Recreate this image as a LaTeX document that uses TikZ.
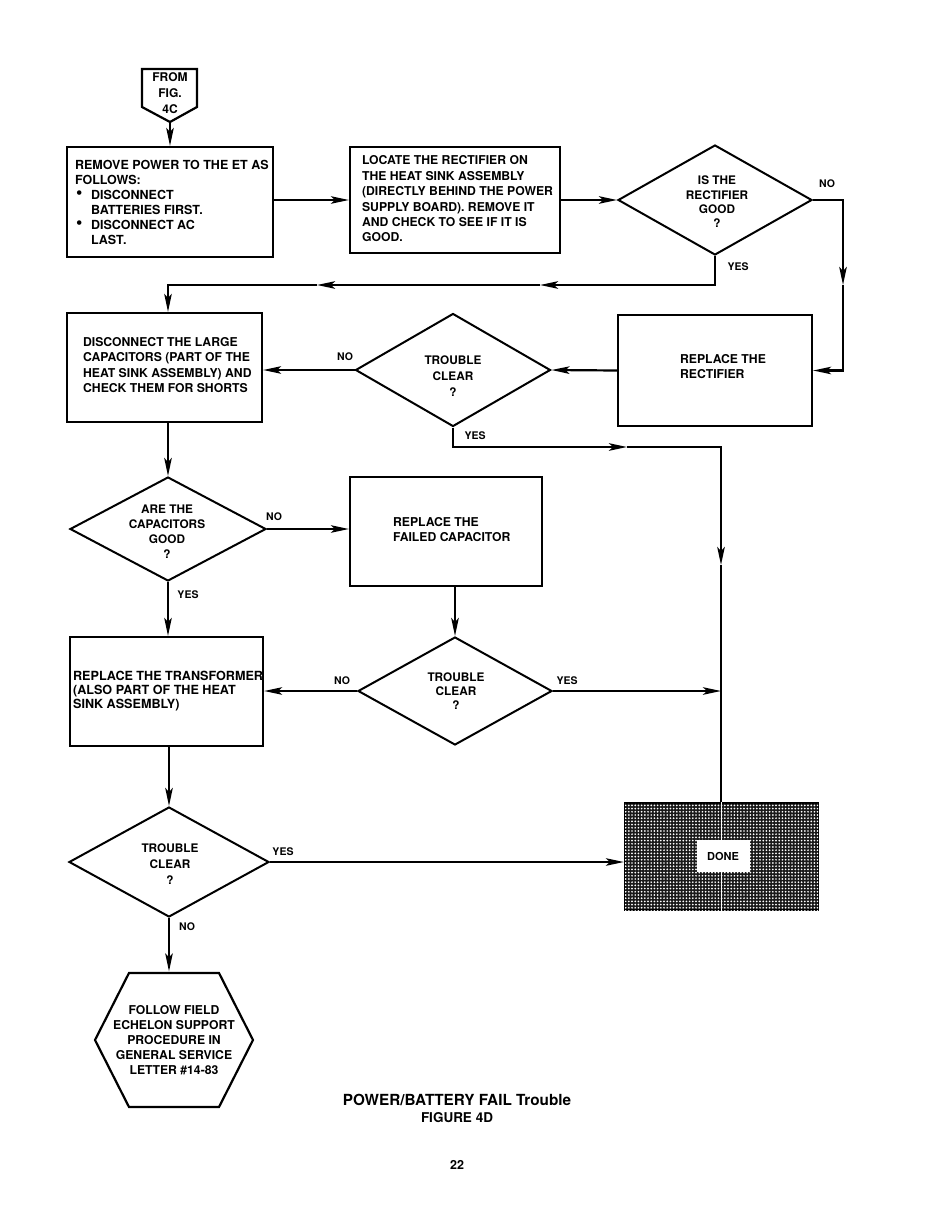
\documentclass[tikz,border=0pt]{standalone}
\usepackage{fontspec}
\setmainfont{TeX Gyre Heros}
\usetikzlibrary{arrows.meta,shapes.geometric,calc,patterns}
\pgfdeclarepatternformonly{halftonedots}{\pgfqpoint{-1pt}{-1pt}}{\pgfqpoint{4.2pt}{4.2pt}}{\pgfqpoint{3.2pt}{3.2pt}}{%
  \pgfpathcircle{\pgfqpoint{1.6pt}{1.6pt}}{0.95pt}\pgfusepath{fill}}
\newcommand{\bigbul}{\raisebox{0.2pt}{\scalebox{1.45}{\textbullet}}}
\begin{document}
\begin{tikzpicture}[x=1pt,y=-1pt,
  line width=2.2pt,
  every node/.style={font=\bfseries\fontsize{12.2}{15}\selectfont, inner sep=0pt},
  box/.style={draw, rectangle, line width=2.2pt},
  txt/.style={align=left, anchor=west},
  dia/.style={draw, diamond, line width=2pt},
  dtxt/.style={align=center, font=\bfseries\fontsize{11.8}{15}\selectfont},
  lbl/.style={font=\bfseries\fontsize{10.5}{12}\selectfont},
  tip/.style={-{Stealth[length=18pt,width=7.5pt,inset=4pt]}},
  ]
\useasboundingbox (0,0) rectangle (950,1223);

% FROM FIG. 4C
\draw[line width=2.2pt] (142,69) -- (197,69) -- (197,107) -- (170,122) -- (142,107) -- cycle;
\node[align=center, font=\bfseries\fontsize{12}{16}\selectfont] (from) at (170,93) {FROM\\FIG.\\4C};
\coordinate (fromtip) at (170,122);

% boxes
\node[box, minimum width=206, minimum height=110] (b1) at (170,202) {};
\node[txt, font=\bfseries\fontsize{12.5}{15}\selectfont] (t1) at (74,202) {REMOVE POWER TO THE ET AS\\
FOLLOWS:\\
\makebox[16pt][l]{\hspace{1pt}\bigbul}DISCONNECT\\
\hspace*{16pt}BATTERIES FIRST.\\
\makebox[16pt][l]{\hspace{1pt}\bigbul}DISCONNECT AC\\
\hspace*{16pt}LAST.};

\node[box, minimum width=210, minimum height=106] (b2) at (455,200) {};
\node[txt, font=\bfseries\fontsize{12.2}{15.4}\selectfont] (t2) at (361,199) {LOCATE THE RECTIFIER ON\\
THE HEAT SINK ASSEMBLY\\
(DIRECTLY BEHIND THE POWER\\
SUPPLY BOARD). REMOVE IT\\
AND CHECK TO SEE IF IT IS\\
GOOD.};

\node[dia, minimum width=194, minimum height=110] (d1) at (715,200) {};
\node[dtxt, font=\bfseries\fontsize{11.8}{14.3}\selectfont] (d1t) at (717,202) {IS THE\\RECTIFIER\\GOOD\\?};

\node[box, minimum width=195, minimum height=109] (b3) at (164.5,367.5) {};
\node[txt, font=\bfseries\fontsize{12.2}{15.3}\selectfont] (t3) at (82,365) {DISCONNECT THE LARGE\\
CAPACITORS (PART OF THE\\
HEAT SINK ASSEMBLY) AND\\
CHECK THEM FOR SHORTS};

\node[dia, minimum width=195, minimum height=113] (d2) at (453,370) {};
\node[dtxt, font=\bfseries\fontsize{11.8}{16}\selectfont] (d2t) at (453,376) {TROUBLE\\CLEAR\\?};

\node[box, minimum width=194, minimum height=111] (b4) at (715,370.5) {};
\node[txt] (t4) at (679,367) {REPLACE THE\\RECTIFIER};

\node[dia, minimum width=196, minimum height=104] (d3) at (168,529) {};
\node[dtxt] (d3t) at (167,531.5) {ARE THE\\CAPACITORS\\GOOD\\?};

\node[box, minimum width=192, minimum height=109] (b5) at (446,531.5) {};
\node[txt] (t5) at (392,529.5) {REPLACE THE\\FAILED CAPACITOR};

\node[box, minimum width=193, minimum height=109] (b6) at (166.5,691.5) {};
\node[txt, font=\bfseries\fontsize{12.6}{14}\selectfont] (t6) at (72,691) {REPLACE THE TRANSFORMER\\
(ALSO PART OF THE HEAT\\
SINK ASSEMBLY)};

\node[dia, minimum width=194, minimum height=108] (d4) at (455,691) {};
\node[dtxt, font=\bfseries\fontsize{11.8}{14}\selectfont] (d4t) at (456,691) {TROUBLE\\CLEAR\\?};

\node[dia, minimum width=200, minimum height=110] (d5) at (169,862) {};
\node[dtxt, font=\bfseries\fontsize{11.8}{16}\selectfont] (d5t) at (170,864) {TROUBLE\\CLEAR\\?};

% DONE
\node[box, minimum width=193, minimum height=107, fill=black!90,
      postaction={pattern=halftonedots, pattern color=white}] (done) at (721.5,856.5) {};
\draw[white, line width=1.2pt] (done.north) -- (done.south);
\node[fill=white, minimum width=53, minimum height=32, font=\bfseries\fontsize{11}{13}\selectfont] (donelbl) at (723,856) {DONE};

% hexagon
\node[minimum width=158, minimum height=135, align=center] (hex) at (174,1040) {FOLLOW FIELD\\ECHELON SUPPORT\\PROCEDURE IN\\GENERAL SERVICE\\LETTER \#14-83};
\draw[line width=2.2pt] ($(hex.center)+(-45,-67)$) -- ($(hex.center)+(45,-67)$) -- ($(hex.center)+(79,0)$)
  -- ($(hex.center)+(45,67)$) -- ($(hex.center)+(-45,67)$) -- ($(hex.center)+(-79,0)$) -- cycle;

% connectors
\draw[tip] (fromtip) -- (b1.north);
\draw[tip] (b2.west -| b1.east) -- (b2.west);
\draw[tip] (b2.east) -- (d1.west);

\coordinate (m5) at (843,285);
\draw[tip] (d1.east) -| (m5);
\draw[tip] (m5) |- (b4.east);

\coordinate (m1) at (540,285);
\coordinate (m2) at (317,285);
\draw[tip] (d1.south) |- (m1);
\draw[tip] (m1) -- (m2);
\draw[tip] (m2) -| (b3.north -| d3.north);

\draw[tip] (b4.west) -- (d2.east);
\draw[tip] (d2.west) -- (d2.west -| b3.east);

\coordinate (m3) at (627,447);
\coordinate (m4) at (721,565);
\draw[tip] (d2.south) |- (m3);
\draw[tip] (m3) -| (m4);
\draw (m4) -- (m4 |- done.north);

\draw[tip] (b3.south -| d3.north) -- (d3.north);
\draw[tip] (d3.east) -- (d3.east -| b5.west);
\draw[tip] (d3.south) -- (d3.south |- b6.north);
\draw[tip] (b5.south -| d4.north) -- (d4.north);
\draw[tip] (d4.west) -- (d4.west -| b6.east);
\draw[tip] (d4.east) -- (d4.east -| m4);
\draw[tip] (b6.south -| d5.north) -- (d5.north);
\draw[tip] (d5.east) -- (d5.east -| done.west);
\draw[tip] (d5.south) -- (d5.south |- hex.north);

% labels
\node[lbl] (l1) at (827,184) {NO};
\node[lbl] (l2) at (738,267) {YES};
\node[lbl] (l3) at (345,357) {NO};
\node[lbl] (l4) at (475,436) {YES};
\node[lbl] (l5) at (274,517) {NO};
\node[lbl] (l6) at (188,595) {YES};
\node[lbl] (l7) at (342,681) {NO};
\node[lbl] (l8) at (567,681) {YES};
\node[lbl] (l9) at (283,852) {YES};
\node[lbl] (l10) at (187,927) {NO};

% caption
\node[font=\bfseries\fontsize{15.3}{18}\selectfont] (cap) at (457,1100) {POWER/BATTERY FAIL Trouble};
\node[font=\bfseries\fontsize{13.5}{15}\selectfont] (fig) at (457,1118) {FIGURE 4D};
\node[font=\bfseries\fontsize{12.5}{14}\selectfont] (pg) at (457,1165) {22};
\end{tikzpicture}
\end{document}
